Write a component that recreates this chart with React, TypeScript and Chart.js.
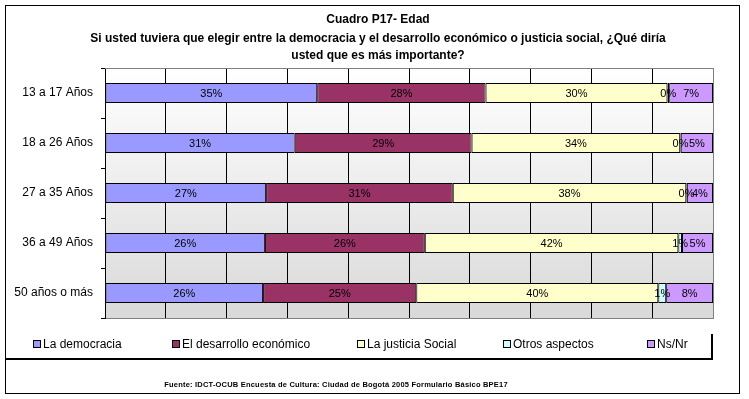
import React, { useEffect, useRef } from 'react';
import { Chart, registerables } from 'chart.js';
Chart.register(...registerables);

const categories = ['13 a 17 Años', '18 a 26 Años', '27 a 35 Años', '36 a 49 Años', '50 años o más'];
const seriesNames = ['La democracia', 'El desarrollo económico', 'La justicia Social', 'Otros aspectos', 'Ns/Nr'];
const democracia = [34.9, 31.2, 26.5, 26.3, 26.0];
const desarrollo = [27.7, 29.1, 30.7, 26.3, 25.2];
const justicia = [29.9, 34.3, 38.4, 41.7, 39.8];
const otros = [0.3, 0.1, 0.1, 0.6, 1.3];
const nsnr = [7.2, 5.3, 4.3, 5.1, 7.7];
const seriesColors = ['#9999FF', '#993366', '#FFFFCC', '#CCFFFF', '#CC99FF'];
const titleLines = [
  'Cuadro P17- Edad',
  'Si usted tuviera que elegir entre la democracia y el desarrollo económico o justicia social, ¿Qué diría',
  'usted que es más importante?',
];
const sourceText = 'Fuente: IDCT-OCUB Encuesta de Cultura: Ciudad de Bogotá 2005 Formulario Básico BPE17';

const FONT = '"Liberation Sans", Arial, sans-serif';

const decor = {
  id: 'decor',
  beforeDraw(chart: any) {
    const { ctx, chartArea: a, width, height } = chart;
    ctx.save();
    ctx.fillStyle = '#fff';
    ctx.fillRect(0, 0, width, height);
    const g = ctx.createLinearGradient(0, a.top, 0, a.bottom);
    g.addColorStop(0, '#ffffff');
    g.addColorStop(1, '#d9d9d9');
    ctx.fillStyle = g;
    ctx.fillRect(a.left, a.top, a.right - a.left, a.bottom - a.top);
    ctx.restore();
  },
  afterDatasetsDraw(chart: any) {
    const { ctx, chartArea: a } = chart;
    ctx.save();
    ctx.strokeStyle = '#808080';
    ctx.lineWidth = 1;
    ctx.beginPath();
    ctx.moveTo(a.left, a.top + 0.5);
    ctx.lineTo(a.right + 0.5, a.top + 0.5);
    ctx.lineTo(a.right + 0.5, a.bottom);
    ctx.stroke();
    ctx.font = '11px ' + FONT;
    ctx.fillStyle = '#000';
    ctx.textAlign = 'center';
    ctx.textBaseline = 'middle';
    chart.data.datasets.forEach((ds: any, i: number) => {
      const meta = chart.getDatasetMeta(i);
      meta.data.forEach((bar: any, j: number) => {
        const v = ds.data[j];
        const cx = (bar.x + bar.base) / 2;
        ctx.fillText(Math.round(v) + '%', cx, bar.y + 1);
      });
    });
    ctx.restore();
  },
  afterDraw(chart: any) {
    const { ctx } = chart;
    ctx.save();
    ctx.strokeStyle = '#000';
    ctx.lineWidth = 1;
    ctx.strokeRect(5.5, 5.5, 734, 388);
    ctx.fillStyle = '#000';
    ctx.textAlign = 'center';
    ctx.textBaseline = 'middle';
    ctx.font = 'bold 12px ' + FONT;
    const ys = [20, 39, 56];
    titleLines.forEach((t, i) => ctx.fillText(t, 378, ys[i]));
    const lx = [33, 172, 357, 503, 647];
    ctx.font = '12px ' + FONT;
    ctx.textAlign = 'left';
    chart.data.datasets.forEach((ds: any, i: number) => {
      ctx.fillStyle = ds.backgroundColor;
      ctx.fillRect(lx[i] + 0.5, 340.5, 7, 7);
      ctx.strokeStyle = '#000';
      ctx.lineWidth = 1;
      ctx.strokeRect(lx[i] + 0.5, 340.5, 7, 7);
      ctx.fillStyle = '#000';
      ctx.fillText(ds.label, lx[i] + 10, 344.5);
    });
    ctx.lineWidth = 2;
    ctx.beginPath();
    ctx.moveTo(5, 359);
    ctx.lineTo(713, 359);
    ctx.moveTo(712, 334);
    ctx.lineTo(712, 360);
    ctx.stroke();
    ctx.font = 'bold 7.5px ' + FONT;
    ctx.textAlign = 'center';
    (ctx as any).letterSpacing = '0.2px';
    ctx.fillText(sourceText, 336, 385);
    ctx.restore();
  },
};

export default function App() {
  const ref = useRef<HTMLCanvasElement>(null);
  useEffect(() => {
    document.body.style.margin = '0';
    const canvas = ref.current!;
    const all = [democracia, desarrollo, justicia, otros, nsnr];
    const chart = new Chart(canvas, {
      type: 'bar',
      data: {
        labels: categories,
        datasets: all.map((d, i) => ({
          label: seriesNames[i],
          data: d,
          backgroundColor: seriesColors[i],
          borderColor: '#000',
          borderWidth: 1,
          borderSkipped: false,
          barPercentage: 0.4,
          categoryPercentage: 1,
        })),
      },
      options: {
        indexAxis: 'y',
        responsive: false,
        animation: false,
        layout: { padding: { top: 68, right: 36, bottom: 81, left: 5 } },
        plugins: { legend: { display: false }, title: { display: false }, tooltip: { enabled: false } },
        scales: {
          x: {
            stacked: true,
            min: 0,
            max: 100,
            ticks: { display: false, stepSize: 10 },
            grid: {
              color: (c: any) => (c.tick && c.tick.value === 100 ? '#808080' : '#000'),
              drawTicks: false,
            },
            border: { color: '#808080' },
            afterFit: (s: any) => { s.height = 0; },
          },
          y: {
            stacked: true,
            ticks: { color: '#000', font: { family: FONT, size: 12 }, padding: 8 },
            grid: { drawOnChartArea: false, drawTicks: true, tickLength: 4, color: '#000' },
            border: { color: '#000' },
            afterFit: (s: any) => { s.width = 100; },
          },
        },
      },
      plugins: [decor],
    } as any);
    return () => chart.destroy();
  }, []);
  return (
    <div style={{ width: 749, height: 399 }}>
      <canvas ref={ref} width={749} height={399} style={{ display: 'block' }} />
    </div>
  );
}
